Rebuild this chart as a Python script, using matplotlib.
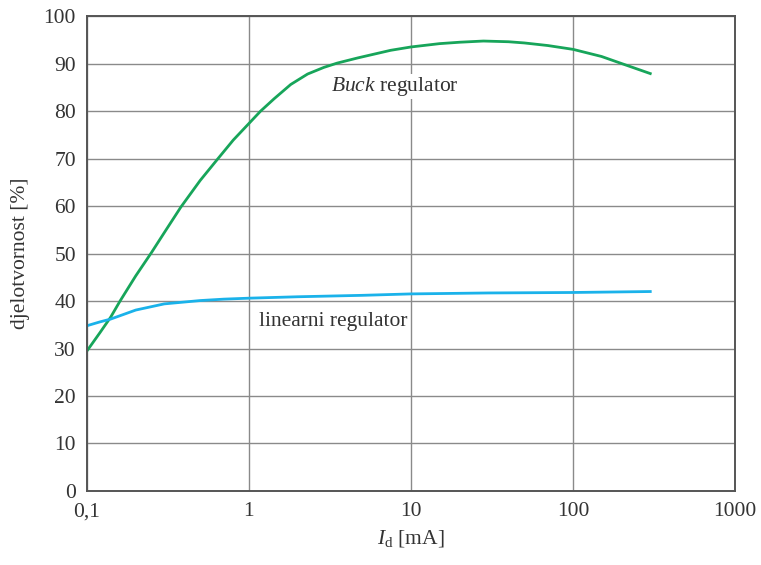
import matplotlib.pyplot as plt

# struja opterecenja [mA] i djelotvornost [%], ocitano sa slike
buck_i = [0.1, 0.12, 0.14, 0.16, 0.2, 0.25, 0.3, 0.38, 0.5, 0.63, 0.8, 1, 1.18, 1.43, 1.81, 2.3, 2.9, 3.5, 4.7, 7.5, 10, 15, 20, 28, 40, 50, 70, 100, 150, 200, 300]
buck_eff = [29.5, 33.3, 36.6, 40, 45.3, 50.2, 54.4, 59.8, 65.4, 69.6, 73.9, 77.4, 80, 82.6, 85.6, 87.8, 89.2, 90.1, 91.2, 92.8, 93.5, 94.2, 94.5, 94.75, 94.6, 94.35, 93.8, 93.0, 91.5, 90.0, 87.9]

lin_i = [0.1, 0.12, 0.14, 0.2, 0.3, 0.5, 0.7, 1, 2, 5, 10, 30, 100, 300]
lin_eff = [34.8, 35.6, 36.2, 38.1, 39.4, 40.1, 40.4, 40.6, 40.9, 41.2, 41.5, 41.7, 41.8, 42.0]

x_ticks = [0.1, 1, 10, 100, 1000]
x_labels = ['0,1', '1', '10', '100', '1000']
y_ticks = list(range(0, 101, 10))

plt.rcParams['font.family'] = ['Liberation Serif', 'DejaVu Serif']
plt.rcParams['mathtext.fontset'] = 'custom'
plt.rcParams['mathtext.rm'] = 'Liberation Serif'
plt.rcParams['mathtext.it'] = 'Liberation Serif:italic'

txt = '#333333'
fs = 15.5

fig = plt.figure(figsize=(7.61, 5.65), dpi=100)
ax = fig.add_axes([0.1143, 0.131, 0.8515, 0.8405])

ax.plot(buck_i, buck_eff, color='#17a55a', lw=2.0)
ax.plot(lin_i, lin_eff, color='#1ab2ea', lw=2.0)

ax.set_xscale('log')
ax.set_xlim(0.1, 1000)
ax.set_ylim(0, 100)
ax.set_xticks(x_ticks)
ax.set_xticklabels(x_labels)
ax.xaxis.set_minor_locator(plt.NullLocator())
ax.set_yticks(y_ticks)
ax.tick_params(length=0, labelsize=fs, colors=txt, pad=8)
ax.grid(True, color='#8a8a8a', lw=1.0)
ax.set_axisbelow(True)
for s in ax.spines.values():
    s.set_color('#555555')
    s.set_linewidth(1.4)

ax.set_ylabel('djelotvornost [%]', fontsize=fs, color=txt, labelpad=10)
ax.set_xlabel(r'$I_\mathrm{d}$ [mA]', fontsize=fs, color=txt, labelpad=5)

bbox = dict(facecolor='white', edgecolor='none', pad=1)
ax.text(3.2, 85.2, r'$\mathit{Buck}$ regulator', fontsize=fs, color=txt, bbox=bbox, va='center')
ax.text(1.15, 35.6, 'linearni regulator', fontsize=fs, color=txt, bbox=bbox, va='center')

fig.savefig('out.png', dpi=100)
